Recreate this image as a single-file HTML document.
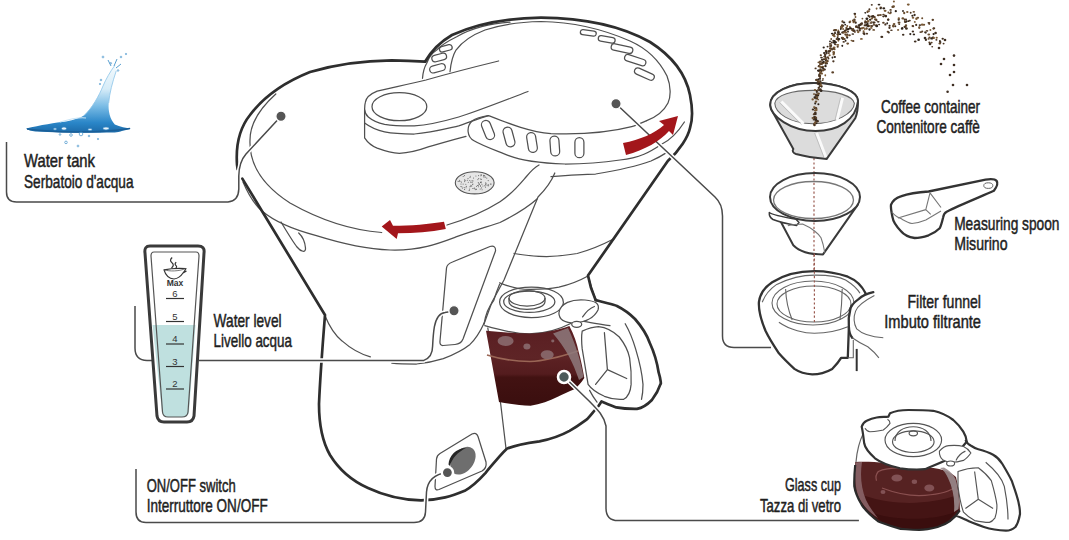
<!DOCTYPE html><html><head><meta charset="utf-8"><style>html,body{margin:0;padding:0;background:#fff;width:1069px;height:540px;overflow:hidden}svg{display:block}</style></head><body>
<svg width="1069" height="540" viewBox="0 0 1069 540">
<rect width="1069" height="540" fill="#fff"/>
<defs>
<linearGradient id="wg" x1="0" y1="0" x2="0" y2="1">
<stop offset="0" stop-color="#f4fafd"/><stop offset="0.35" stop-color="#d6ecf8"/><stop offset="0.6" stop-color="#7cbde6"/><stop offset="0.85" stop-color="#2a86c8"/><stop offset="1" stop-color="#1c6aa8"/></linearGradient>
<linearGradient id="coffee" gradientUnits="userSpaceOnUse" x1="0" y1="326" x2="0" y2="406">
<stop offset="0" stop-color="#5a1e22"/><stop offset="0.4" stop-color="#5e2426"/><stop offset="0.44" stop-color="#5a2022"/><stop offset="0.6" stop-color="#541c1e"/><stop offset="0.64" stop-color="#421212"/><stop offset="1" stop-color="#3a0e0e"/></linearGradient>
<linearGradient id="coffee2" x1="0" y1="0" x2="0" y2="1">
<stop offset="0" stop-color="#5a1f1f"/><stop offset="0.45" stop-color="#5e2222"/><stop offset="0.55" stop-color="#4a1616"/><stop offset="1" stop-color="#3a0f0f"/></linearGradient>
</defs>
<path d="M26,128.5 C40,125 56,122.5 66,121.4 C74,120 80,118 84.3,115.3 C92,108 99,96 103,86 C106,79 110,72 114.8,65.4 L116.2,71 C112.5,82 109.5,93 108.7,103 C108,111 110,119 114.8,124.5 C120,127 126,127.8 131,128.5 C122,131 118,132.5 112.8,132.6 C90,133 60,133 35.4,131.6 C31,131 28,130 26,128.5 Z" fill="url(#wg)"/>
<path d="M84.3,115.3 C92,108 99,96 103,86 C106,79 110,72 114.8,65.4 M116.2,71 C112.5,82 109.5,93 108.7,103" fill="none" stroke="#8cc4e8" stroke-width="0.8"/>
<path d="M60,122 C70,119 80,117 86,118" fill="none" stroke="#c8e4f6" stroke-width="1.2"/>
<path d="M27,129 C50,132 95,134 130,128.5" stroke="#1a5f98" stroke-width="1.6" fill="none"/>
<ellipse cx="64" cy="128.5" rx="2.5" ry="1.5" fill="#e8f4fb" stroke="#3a8ac4" stroke-width="0.6"/>
<ellipse cx="106" cy="128.5" rx="3" ry="1.4" fill="#e8f4fb" stroke="#3a8ac4" stroke-width="0.6"/>
<ellipse cx="55" cy="129" rx="1.5" ry="1" fill="#e8f4fb" stroke="#3a8ac4" stroke-width="0.6"/>
<ellipse cx="90" cy="129.5" rx="2" ry="1" fill="#e8f4fb" stroke="#3a8ac4" stroke-width="0.6"/>
<circle cx="81" cy="134" r="1.8" fill="none" stroke="#5aa0d0" stroke-width="0.8"/>
<circle cx="71" cy="135" r="1.3" fill="none" stroke="#5aa0d0" stroke-width="0.8"/>
<circle cx="66" cy="142.4" r="1.3" fill="none" stroke="#5aa0d0" stroke-width="0.8"/>
<circle cx="78" cy="146" r="0.9" fill="none" stroke="#5aa0d0" stroke-width="0.8"/>
<circle cx="60" cy="134.5" r="0.8" fill="none" stroke="#5aa0d0" stroke-width="0.8"/>
<circle cx="89" cy="136" r="0.8" fill="none" stroke="#5aa0d0" stroke-width="0.8"/>
<circle cx="98" cy="139" r="0.7" fill="none" stroke="#5aa0d0" stroke-width="0.8"/>
<circle cx="110.8" cy="63.3" r="0.8" fill="none" stroke="#5aa0d0" stroke-width="0.8"/>
<circle cx="118" cy="70.5" r="0.8" fill="none" stroke="#5aa0d0" stroke-width="0.8"/>
<circle cx="103" cy="57" r="0.9" fill="none" stroke="#5aa0d0" stroke-width="0.8"/>
<circle cx="121" cy="57" r="0.8" fill="none" stroke="#5aa0d0" stroke-width="0.8"/>
<circle cx="126" cy="54" r="0.7" fill="none" stroke="#5aa0d0" stroke-width="0.8"/>
<circle cx="101" cy="80" r="0.8" fill="none" stroke="#5aa0d0" stroke-width="0.8"/>
<circle cx="100" cy="84" r="0.7" fill="none" stroke="#5aa0d0" stroke-width="0.8"/>
<path d="M111,66 L108,60 M114,66 L117,59 M116,68 L121,64" stroke="#5aa0d0" stroke-width="1" fill="none"/>
<g fill="none" stroke="#505050" stroke-width="1.25" stroke-linecap="round" stroke-linejoin="round">
<path d="M275.8,94 C258,110 250,125 250,140 C249,165 262,185 290,203 C320,220 350,230 381.7,232.5"/>
<path d="M447,225 C470,218 490,208 500,201.7 C512,194 520,184 526,177 C531,171 535,167 539,165"/>
<path d="M243,182 C249,196 255,205 262,211 C275,222 295,230 316.4,235.6 C340,243 365,249 390,250 C420,251 440,243 456.7,236.7 C475,230 490,226 500,222.5 C515,215 528,207 537,199"/>
<path d="M281,222 C287,232 293,242 297,247 C301,252 306,253 305.5,248 C305,242 302,236 298.7,233"/>
<path d="M450,71.7 C451,62 453,55 456,50 C462,42 472,35 485,30 C500,25 520,22 541,21.5 C575,22 605,30 630,41 C648,49 660,62 667,76 C671,86 671,97 668,103 C664,111 656,117 646.7,120.7"/>
<path d="M422.5,78.3 C423,72 424.5,67 426.7,63.3 C429,57 432,53 436.7,50 C442,44 450,40 456.7,36.7 C465,32 473,29 481.7,26.7 C490,24.5 500,23 510,22.2"/>
<path d="M498.6,61 C470,68 440,76 426,80 C410,84 390,88 377.2,91.1 C370,94 366,98 365.4,102.2 C364.6,105 364.6,107 364.6,109.6 L364.6,137.8 C368,143 372,146 377.2,148.1 C385,151 392,153 399.4,153.3 C410,153 420,150 429,146.7 C445,142 455,139 466,136.3"/>
<path d="M364.6,109.6 C365,113 366,115 368.3,117 C373,121 378,123 384.6,124.4 C395,126 405,126 414.3,125.9 C430,125 445,121 458.7,117 C475,112 490,106 528,91.5"/>
<path d="M364.6,123 C370,127 376,130 384.6,131.9 C395,134 405,134 414.3,134 C430,133 445,129 458.7,125.9 C470,122 480,118 488.3,115.6"/>
<ellipse cx="399.4" cy="106.7" rx="27.4" ry="14"/>
<path d="M646.7,120.7 C640,123.5 636,125.5 631.7,126.7 C615,131 590,135 551,133.6 C530,132 510,124 488.6,115.6 C482,116.5 476,118 472,121 C466,127 467,137 474,140.7 C483,146 495,150 509.4,155.8 C520,160 540,163 565,164 C585,164 600,163 620,160 C640,158 650,152 662,144 C670,140 678,132 684.4,122"/>
<path d="M551,176.7 C570,175 585,174 595.6,174 C620,170 640,165 651,161 C658,158 663,155 667.8,151.9"/>
<path d="M554.8,173 C552,180 545,190 538,197 L504,280 L492,302 L484,324"/>
<path d="M514,253.5 C525,255.5 535,256.6 546.6,256.6 C558,256.5 568,255 577.2,253.5 C590,250 604,244 614.5,238.5"/>
<path d="M499.6,282.8 C510,287 520,289.4 529.3,289.4 C545,289.5 552,288.5 558.9,287.2 C570,284.5 580,280.5 588,276"/>
<path d="M325.1,316 C330,328 336,336 342,340.9 C350,348 360,354 370.4,356.9"/>
<path d="M391.8,363.1 C400,364 410,364 416.6,364 C428,363 436,361 443.3,358.7 C455,354 463,350 470,344.4 C477,338 481,330 484.2,323.1"/>
<path d="M452.5,262 L490,246.5 Q496,245 495.5,251 L463,339 Q461,344 455,344.5 L443,345.5 Q439.5,345.5 440,341 L446.5,268 Q447,264 452.5,262 Z"/>
<path d="M440,453.5 L472,434 Q476.5,432 478,436.5 L486,462 Q487,468 482,471 L439,489.5 Q435,491 435,486.5 L436.5,459 Q436.8,455.5 440,453.5 Z"/>
<path d="M487.8,328 L500.7,404 L506,448.5"/>
<path d="M499.6,302 C499.6,293 514,287.2 531.5,287.2 C549,287.2 563.4,293 563.4,302.4 C563.4,311 549,317.6 531.5,317.6 C514,317.6 499.6,311 499.6,302 Z"/>
<ellipse cx="529.3" cy="301.7" rx="25.6" ry="10.7"/>
<path d="M509,298.3 C509,294 517,290.5 527,290.5 C537,290.5 545,294 545,298.3 L545,301.5 C545,306 537,309.4 527,309.4 C517,309.4 509,306 509,301.5 Z"/>
<path d="M509,298.3 C509,302.5 517,306 527,306 C537,306 545,302.5 545,298.3"/>
<path d="M484,324 C486,312 490,305 493.7,300.6 C496,293 498,288 499.6,284.3"/>
<path d="M484.8,325.7 C500,330 515,333.9 529.3,333.9 C545,333.5 560,329 570.7,323.5"/>
<path d="M558.9,313 C560,303 572,299 585,300 C595,301 600,303 598,310 C594,318 585,322 575,323 C565,323 559,320 558.9,313 Z" fill="#fff"/>
<path d="M582.6,316.9 C586,312 590,308 594.4,306.5"/>
<ellipse cx="576.7" cy="324.3" rx="5" ry="3" fill="#fff"/>
<path d="M584,321.3 C592,323 600,324 610,325.7"/>
<path d="M582.2,331.1 C588,328.5 593,327 598.5,326.7 C606,327.5 613,331 619.3,337 C624,343 628,350 629.6,357.8 C631,367 631.5,376 631.1,384.4 C630.5,392 628,397 623.7,399.3 C617,400 610,398.5 604.4,396.3 C598,393.5 592,390 588.1,384.4 C586,372 584,360 582.2,348.9 C581.5,342 581.5,335 582.2,331.1 Z"/>
<path d="M604.4,332.6 L607.4,369.6 L595.6,384.4 M607.4,369.6 L626.7,378.5"/>
<path d="M625.2,323.7 C630,332 633,340 635.6,348.9 C639,360 642,372 643,384.4 C643,390 642.5,395 641.5,399.3"/>
<path d="M589.6,280.7 C592,290 594,296 597,301.5"/>
<path d="M589.6,390.4 C592,395 594.5,399 597,402.2"/>
</g>
<g fill="none" stroke="#505050" stroke-width="1.25">
<rect x="483.5" y="120" width="9" height="20" rx="4.5" transform="rotate(-22 488 130)"/>
<rect x="504.5" y="127" width="9" height="20" rx="4.5" transform="rotate(-15 509 137)"/>
<rect x="527.5" y="132.5" width="9" height="20" rx="4.5" transform="rotate(-9 532 142.5)"/>
<rect x="550.3" y="136" width="9" height="20" rx="4.5" transform="rotate(-4 554.8 146)"/>
<rect x="574.9" y="137.7" width="9" height="20" rx="4.5" transform="rotate(0 579.4 147.7)"/>
<rect x="439.3" y="45.55" width="13" height="5.5" rx="2.75" transform="rotate(-15 445.8 48.3)"/>
<rect x="431.7" y="54.25" width="15" height="6.5" rx="3.25" transform="rotate(-15 439.2 57.5)"/>
<rect x="429.5" y="64.8" width="16" height="7" rx="3.5" transform="rotate(-15 437.5 68.3)"/>
<rect x="580.3" y="30.4" width="16" height="5" rx="2.5" transform="rotate(8 588.3 32.9)"/>
<rect x="598.2" y="36.65" width="17" height="5.5" rx="2.75" transform="rotate(10 606.7 39.4)"/>
<rect x="611.0" y="45.35" width="22" height="6.5" rx="3.25" transform="rotate(12 622 48.6)"/>
<rect x="624.2" y="56.95" width="22" height="6.5" rx="3.25" transform="rotate(18 635.2 60.2)"/>
<rect x="633.9" y="70.85" width="21" height="6.5" rx="3.25" transform="rotate(24 644.4 74.1)"/>
</g>
<g fill="none" stroke="#2e2e2e" stroke-width="2.7" stroke-linecap="round" stroke-linejoin="round">
<path d="M237.6,169 L237,164.5 C236,150 238,130 250,115 C265,95 285,82 310,72 C340,63 370,60.5 391.7,60.3 C405,60.5 415,61 425,61.7"/>
<path d="M425,61.7 C432,50 440,42 452,35 C480,22 510,18 541,17.6 C590,18 625,28 650,42 C672,56 686,75 690,95 C693,110 692,122 690,128 C688,137 680,150 667.8,161 L588,275.5 C589.5,284 592,292 595.6,300"/>
<path d="M242.3,178.6 L325,315 C323,340 320,380 319,404 C319,425 322,441 330,455 C338,468 350,480 368,488 C385,496 405,500 421,500.4 C440,500 452,496 464.7,490.8 C473,486 480,479 485.6,472.8 C493,464 500,455 506.6,448.9 C515,445 528,443 539.5,441.4 C552,439 562,435 569.5,430.9 C578,426 583,422 587.4,418.9 C591,415 594,411 596.4,408.4"/>
<path d="M595.6,300 C605,303 612,304 617,306 C625,310 630,314 635,319 C642,327 647,335 649.8,343 C654,352 657,362 658.7,372.7 C661,380 661,385 660.7,383.7 C658,392 655,396 651.9,400 C647,405 642,408 637,408.9 C630,409 622,408.5 616.3,407.4 C610,405 605,403 601.5,401.5 L598.5,406"/>
</g>
<ellipse cx="474.7" cy="182.8" rx="19.4" ry="11.1" fill="#e6e6e6" stroke="#555" stroke-width="1.1"/>
<circle cx="471.7" cy="185.9" r="0.55" fill="#6a6a6a"/>
<circle cx="472.0" cy="180.8" r="0.55" fill="#6a6a6a"/>
<circle cx="464.7" cy="181.6" r="0.55" fill="#6a6a6a"/>
<circle cx="486.0" cy="185.1" r="0.55" fill="#6a6a6a"/>
<circle cx="485.6" cy="184.2" r="0.55" fill="#6a6a6a"/>
<circle cx="479.3" cy="184.0" r="0.55" fill="#6a6a6a"/>
<circle cx="460.9" cy="186.5" r="0.55" fill="#6a6a6a"/>
<circle cx="480.4" cy="185.8" r="0.55" fill="#6a6a6a"/>
<circle cx="463.2" cy="176.5" r="0.55" fill="#6a6a6a"/>
<circle cx="465.2" cy="180.2" r="0.55" fill="#6a6a6a"/>
<circle cx="478.3" cy="182.5" r="0.55" fill="#6a6a6a"/>
<circle cx="480.5" cy="179.0" r="0.55" fill="#6a6a6a"/>
<circle cx="478.3" cy="185.2" r="0.55" fill="#6a6a6a"/>
<circle cx="469.2" cy="190.4" r="0.55" fill="#6a6a6a"/>
<circle cx="480.2" cy="189.0" r="0.55" fill="#6a6a6a"/>
<circle cx="468.0" cy="178.6" r="0.55" fill="#6a6a6a"/>
<circle cx="470.6" cy="182.1" r="0.55" fill="#6a6a6a"/>
<circle cx="481.9" cy="184.3" r="0.55" fill="#6a6a6a"/>
<circle cx="470.0" cy="177.5" r="0.55" fill="#6a6a6a"/>
<circle cx="469.6" cy="189.1" r="0.55" fill="#6a6a6a"/>
<circle cx="465.8" cy="184.2" r="0.55" fill="#6a6a6a"/>
<circle cx="478.6" cy="175.6" r="0.55" fill="#6a6a6a"/>
<circle cx="475.2" cy="189.6" r="0.55" fill="#6a6a6a"/>
<circle cx="459.0" cy="181.5" r="0.55" fill="#6a6a6a"/>
<circle cx="473.5" cy="178.0" r="0.55" fill="#6a6a6a"/>
<circle cx="480.5" cy="182.4" r="0.55" fill="#6a6a6a"/>
<circle cx="461.8" cy="186.7" r="0.55" fill="#6a6a6a"/>
<circle cx="481.6" cy="187.9" r="0.55" fill="#6a6a6a"/>
<circle cx="488.2" cy="184.6" r="0.55" fill="#6a6a6a"/>
<circle cx="475.9" cy="176.0" r="0.55" fill="#6a6a6a"/>
<circle cx="481.5" cy="179.2" r="0.55" fill="#6a6a6a"/>
<circle cx="470.3" cy="176.3" r="0.55" fill="#6a6a6a"/>
<circle cx="464.6" cy="179.9" r="0.55" fill="#6a6a6a"/>
<circle cx="483.6" cy="175.4" r="0.55" fill="#6a6a6a"/>
<circle cx="461.0" cy="184.0" r="0.55" fill="#6a6a6a"/>
<circle cx="487.9" cy="185.6" r="0.55" fill="#6a6a6a"/>
<circle cx="464.5" cy="175.6" r="0.55" fill="#6a6a6a"/>
<circle cx="478.7" cy="178.5" r="0.55" fill="#6a6a6a"/>
<circle cx="464.2" cy="187.6" r="0.55" fill="#6a6a6a"/>
<circle cx="486.1" cy="183.7" r="0.55" fill="#6a6a6a"/>
<circle cx="477.6" cy="185.5" r="0.55" fill="#6a6a6a"/>
<circle cx="488.6" cy="185.7" r="0.55" fill="#6a6a6a"/>
<circle cx="480.5" cy="186.1" r="0.55" fill="#6a6a6a"/>
<circle cx="462.4" cy="188.1" r="0.55" fill="#6a6a6a"/>
<circle cx="484.7" cy="185.7" r="0.55" fill="#6a6a6a"/>
<circle cx="459.5" cy="180.2" r="0.55" fill="#6a6a6a"/>
<circle cx="481.4" cy="175.2" r="0.55" fill="#6a6a6a"/>
<circle cx="472.8" cy="188.5" r="0.55" fill="#6a6a6a"/>
<circle cx="464.6" cy="189.4" r="0.55" fill="#6a6a6a"/>
<circle cx="481.1" cy="181.9" r="0.55" fill="#6a6a6a"/>
<circle cx="478.4" cy="186.7" r="0.55" fill="#6a6a6a"/>
<circle cx="475.9" cy="189.0" r="0.55" fill="#6a6a6a"/>
<circle cx="467.3" cy="180.3" r="0.55" fill="#6a6a6a"/>
<circle cx="485.7" cy="182.9" r="0.55" fill="#6a6a6a"/>
<circle cx="466.0" cy="187.8" r="0.55" fill="#6a6a6a"/>
<circle cx="488.2" cy="180.6" r="0.55" fill="#6a6a6a"/>
<circle cx="461.4" cy="182.1" r="0.55" fill="#6a6a6a"/>
<circle cx="472.9" cy="180.9" r="0.55" fill="#6a6a6a"/>
<circle cx="486.8" cy="178.1" r="0.55" fill="#6a6a6a"/>
<circle cx="485.4" cy="177.1" r="0.55" fill="#6a6a6a"/>
<circle cx="466.3" cy="186.4" r="0.55" fill="#6a6a6a"/>
<circle cx="485.5" cy="187.1" r="0.55" fill="#6a6a6a"/>
<circle cx="478.8" cy="183.7" r="0.55" fill="#6a6a6a"/>
<circle cx="476.5" cy="186.3" r="0.55" fill="#6a6a6a"/>
<circle cx="472.6" cy="184.5" r="0.55" fill="#6a6a6a"/>
<circle cx="481.3" cy="182.8" r="0.55" fill="#6a6a6a"/>
<circle cx="482.9" cy="186.0" r="0.55" fill="#6a6a6a"/>
<circle cx="490.4" cy="184.1" r="0.55" fill="#6a6a6a"/>
<circle cx="469.8" cy="180.5" r="0.55" fill="#6a6a6a"/>
<circle cx="474.6" cy="188.1" r="0.55" fill="#6a6a6a"/>
<circle cx="470.8" cy="185.2" r="0.55" fill="#6a6a6a"/>
<circle cx="484.6" cy="175.5" r="0.55" fill="#6a6a6a"/>
<circle cx="463.1" cy="184.1" r="0.55" fill="#6a6a6a"/>
<circle cx="479.4" cy="184.3" r="0.55" fill="#6a6a6a"/>
<circle cx="469.9" cy="186.7" r="0.55" fill="#6a6a6a"/>
<circle cx="477.9" cy="179.6" r="0.55" fill="#6a6a6a"/>
<circle cx="491.1" cy="184.1" r="0.55" fill="#6a6a6a"/>
<circle cx="468.3" cy="182.2" r="0.55" fill="#6a6a6a"/>
<circle cx="472.0" cy="182.4" r="0.55" fill="#6a6a6a"/>
<circle cx="458.1" cy="181.2" r="0.55" fill="#6a6a6a"/>
<circle cx="484.0" cy="177.1" r="0.55" fill="#6a6a6a"/>
<circle cx="474.0" cy="188.2" r="0.55" fill="#6a6a6a"/>
<circle cx="482.1" cy="189.7" r="0.55" fill="#6a6a6a"/>
<circle cx="460.0" cy="181.2" r="0.55" fill="#6a6a6a"/>
<circle cx="470.8" cy="186.5" r="0.55" fill="#6a6a6a"/>
<circle cx="481.1" cy="174.5" r="0.55" fill="#6a6a6a"/>
<circle cx="483.9" cy="176.3" r="0.55" fill="#6a6a6a"/>
<circle cx="480.8" cy="175.8" r="0.55" fill="#6a6a6a"/>
<circle cx="476.5" cy="189.2" r="0.55" fill="#6a6a6a"/>
<circle cx="472.9" cy="184.0" r="0.55" fill="#6a6a6a"/>
<ellipse cx="463" cy="460.7" rx="15.5" ry="10.5" transform="rotate(-52 463 460.7)" fill="#6e6e6e"/>
<path d="M448.5,464.5 C449,456 456,448 466,448 C458,452 452,458 450,466 Z" fill="#262626"/>
<path d="M486,330.7 C500,332 515,333.5 530.6,333.5 C545,333 558,330 569.4,326 C574,335 577,343 578.7,352 C581,360 583,370 584.3,378 C581,383 578,386 575,389 C568,392 563,394 558.3,396.5 C550,401 540,404 530.6,405.7 C520,405.5 510,404 499,402 Z" fill="url(#coffee)"/>
<path d="M487,355 C500,359 515,361.5 530,361.5 C545,361 560,357 578,351" stroke="#9a6656" stroke-width="1.5" fill="none"/>
<path d="M553,333.5 L568,328 C576,345 581,362 583.5,377 L579,380 C573,362 565,347 553,333.5 Z" fill="#8e7a7c" opacity="0.85"/>
<ellipse cx="505.6" cy="341" rx="8" ry="5" fill="#8a6a6e" opacity="0.9"/>
<ellipse cx="526.9" cy="346.5" rx="3.5" ry="3" fill="#8a6a6e" opacity="0.9"/>
<ellipse cx="547.2" cy="354.8" rx="6.5" ry="4.5" fill="#8a6a6e" opacity="0.9"/>
<ellipse cx="552.8" cy="341" rx="1.6" ry="1.4" fill="#8a6a6e" opacity="0.9"/>
<g fill="none" stroke="#fff" stroke-width="4.5"><path d="M6.5,142 V192 Q6.5,202 16.5,202 H228 Q238.5,201 238.8,189 V176 Q239,162 246,154 L281,116.3"/><path d="M199,360.4 H423.8 C430,358 432.6,352 432.6,346.2 C433,338 433.5,332 434.4,326.7 C436,318 440,313 445,312.4 L454,311"/><path d="M136,469 V512 Q136,522.5 146,522.5 H414 Q425,522.5 425.5,512 L426.5,492 Q428,475 447,472.6"/><path d="M564.4,377 L589.6,401.5 C598,410 604,416 606,426 V508 Q606,520.6 618,520.6 H858.9"/><path d="M616,103.7 L715,197 Q722.5,204 722.5,216 V336 Q722.5,347.5 734,347.5 H771"/></g>
<g fill="none" stroke="#4a4a4a" stroke-width="1.5"><path d="M6.5,142 V192 Q6.5,202 16.5,202 H228 Q238.5,201 238.8,189 V176 Q239,162 246,154 L281,116.3"/><path d="M135,306 V348 Q135,360.4 147,360.4 H152"/><path d="M199,360.4 H423.8 C430,358 432.6,352 432.6,346.2 C433,338 433.5,332 434.4,326.7 C436,318 440,313 445,312.4 L454,311"/><path d="M136,469 V512 Q136,522.5 146,522.5 H414 Q425,522.5 425.5,512 L426.5,492 Q428,475 447,472.6"/><path d="M564.4,377 L589.6,401.5 C598,410 604,416 606,426 V508 Q606,520.6 618,520.6 H858.9"/><path d="M616,103.7 L715,197 Q722.5,204 722.5,216 V336 Q722.5,347.5 734,347.5 H771"/></g>
<circle cx="281" cy="116.3" r="5.2" fill="#555" stroke="#fff" stroke-width="1.4"/>
<circle cx="616" cy="103.7" r="5.2" fill="#555" stroke="#fff" stroke-width="1.4"/>
<circle cx="454" cy="310.8" r="5.2" fill="#555" stroke="#fff" stroke-width="1.4"/>
<circle cx="447.4" cy="472.6" r="5.6" fill="#555" stroke="#fff" stroke-width="2.4"/>
<circle cx="564" cy="377" r="6" fill="#4c5a5a" stroke="#fff" stroke-width="2.6"/>
<path d="M444,221.7 C430,224 410,225.8 393,225.8 L390,220 L381.7,226.5 L396.7,239 L398,233.3 C415,233.3 430,232 445.8,229 Z" fill="#a3161b"/>
<path d="M623,143 C640,140 655,133 664,125 L659,121 L678,116 L673,135 L669,131 C660,141 645,150 626,155 Z" fill="#a3161b"/>
<path d="M150,246 H198 Q205,246 204,253 L194,416 Q193,422 187,422 H164 Q158,422 157,416 L145,253 Q144,246 150,246 Z" fill="#fff" stroke="#3a3a3a" stroke-width="3"/>
<path d="M152.5,325 H195.5 L189,412 Q188.5,417 183,417 H168 Q162.5,417 162,412 Z" fill="#bfe0df"/>
<path d="M154,252 H196 Q199,252 199,256 L188,412 Q187.5,417 182,417 H168 Q163,417 162.5,412 L151,256 Q151,252 154,252 Z" fill="none" stroke="#555" stroke-width="1.2"/>
<g stroke="#333" stroke-width="1.2">
<line x1="166" y1="298.5" x2="184" y2="298.5"/>
<line x1="166" y1="321.5" x2="184" y2="321.5"/>
<line x1="166" y1="344" x2="184" y2="344"/>
<line x1="166" y1="366.5" x2="184" y2="366.5"/>
<line x1="166" y1="389" x2="184" y2="389"/>
</g>
<g font-family="Liberation Sans" font-size="9.5" fill="#333" text-anchor="middle">
<text x="175" y="296.5">6</text>
<text x="175" y="319.5">5</text>
<text x="175" y="342">4</text>
<text x="175" y="364.5">3</text>
<text x="175" y="387">2</text>
<text x="175" y="286" font-size="8.5" font-weight="bold">Max</text></g>
<path d="M164,269.8 C170,268.5 178,268 186,268.5 C185,270.5 184,272 183,273 C181,276 178,278.5 174,279 C169,278.5 165.5,275 164,269.8 Z M183,273 L186.5,271" fill="none" stroke="#333" stroke-width="1.2" stroke-linejoin="round"/>
<path d="M164,269.8 C170,271.5 178,271.5 186,268.5" fill="none" stroke="#555" stroke-width="0.8"/>
<path d="M172.2,257.5 C170,259.5 170,261 172,262.8 C174,264.5 173.5,266.3 171.5,268 M176.2,262.3 C174.8,263.5 174.8,264.6 176,265.6 C177,266.4 176.6,267.3 175.8,268" fill="none" stroke="#333" stroke-width="1.2"/>
<line x1="814" y1="158" x2="814" y2="323" stroke="#9a5a50" stroke-width="1.2" stroke-dasharray="2.2,2.2"/>
<path d="M770.2,105 C770,92 790,83 813.7,83 C840,83 858,92 858,101 C858,108 857,114 855.4,118 L826.7,158.9 C815,158 803,156 796,154 C793,153 792,151 793.3,149 L773,112.6 C771,110 770.2,108 770.2,105 Z" fill="#dcdcdc" stroke="#3a3a3a" stroke-width="2"/>
<path d="M770.2,105 C771,116 790,131 815.6,131 C838,131 856,120 858,101 C858,92 840,83 813.7,83 C790,83 770,92 770.2,105 Z" fill="#fff" stroke="#3a3a3a" stroke-width="2"/>
<path d="M774.8,103.3 C776,95 792,90.4 813,90.4 C836,90.4 853,96 854.4,103.3 C854,113 836,123.7 813,123.7 C790,123.7 775,113 774.8,103.3 Z" fill="#dcdcdc" stroke="#666" stroke-width="1.1"/>
<path d="M781.4,101.5 L803.6,123.7 M842.5,97.8 L837,120 M816.6,133 L825.8,157" stroke="#fafafa" stroke-width="3" fill="none"/>
<path d="M779.4,102.5 L801.6,124.7 M840.5,97.8 L835,120 M814.6,133 L823.8,157" stroke="#aaa" stroke-width="0.6" fill="none"/>
<path d="M780.4,221 L793.3,245.2 C800,252 812,254.4 823,254.4 L858,204.4 Z" fill="#fff" stroke="#3a3a3a" stroke-width="2" stroke-linejoin="round"/>
<ellipse cx="815" cy="197" rx="45" ry="24" fill="#fff" stroke="#3a3a3a" stroke-width="2"/>
<ellipse cx="813.5" cy="200" rx="40" ry="18.5" fill="none" stroke="#777" stroke-width="1.3"/>
<line x1="814" y1="174" x2="814" y2="254" stroke="#9a5a50" stroke-width="1.2" stroke-dasharray="2.2,2.2"/>
<path d="M769.3,212.5 C772,214.5 780,216.5 796,219.3 L799,222.5 L796.5,225.5 C788,224 779,222 773,219.5 C770.5,218 769,215.5 769.3,212.5 Z" fill="#fff" stroke="#3a3a3a" stroke-width="1.5" stroke-linejoin="round"/>
<path d="M787.8,225.7 C792,224.5 797,224 802.6,224 C812,228 819,234 821,237.8 C823,243 824,248 824.8,252.6" fill="none" stroke="#777" stroke-width="1.1"/>
<path d="M891,204.7 C893,200 896,198 900.8,196.4 C910,193 920,192 928.6,191.5 L985.6,179.7 C991,178.8 995,179 996.7,181 C998,183 997.5,186 993.9,190.8 C980,197 960,205 946.7,211.7 C944,213 943.5,215 943.2,217.2 C942,222 941,226 939.7,228.3 C936,232 932,234 928.6,235.3 C922,237.5 918,238 914.7,238 C908,237 904,235 900.8,231 C896,226 893,221 892.5,217.2 C891.5,212 890.5,208 891,204.7 Z" fill="#fff" stroke="#333" stroke-width="2.3" stroke-linejoin="round"/>
<ellipse cx="988.3" cy="185.6" rx="4.5" ry="2.8" fill="none" stroke="#666" stroke-width="1"/>
<path d="M891.8,211.7 C894,215 897,217 900.8,218.6 C905,221 908,223 912,223.5 C917,223 921,222 925.8,220 L941,211 M930,192.9 L925.8,209.6 L898,218 M925.8,209.6 L930.7,214.4 M930,192.9 L941,207.5" fill="none" stroke="#777" stroke-width="1.1" stroke-linejoin="round"/>
<path d="M758.9,302.2 C760,293 765,287 772.2,282.2 C785,274 800,271.1 814.4,271.1 C828,271 840,274 847.8,276.7 C856,280 862,286 865.6,293.3 L848.9,326.7 L847.8,357.8 L841.1,357.8 C838,363 835,366 832.2,368.9 C825,373 818,374.4 812.2,374.4 C805,374 799,372 794.4,368.9 C788,363 783,358 778.9,353.3 C772,343 768,336 765.6,331 C761,320 758.5,310 758.9,302.2 Z" fill="#fff" stroke="#333" stroke-width="2.3" stroke-linejoin="round"/>
<g fill="none" stroke="#666" stroke-width="1.1">
<path d="M762.2,302.2 C765,295 770,289 776.7,284.4 C790,278 800,275.1 814.4,275.1 C830,275 840,277 845.6,280 C852,284 857,288 860,293.3"/>
<ellipse cx="813" cy="303" rx="41" ry="22"/>
<ellipse cx="814" cy="304" rx="37" ry="18"/>
<path d="M778.9,322.2 C790,330 805,333.3 814.4,333.3 C828,333 840,330 847.8,326.7"/>
<path d="M785.6,288.9 C786,300 789,312 792.2,320 M842.2,288.9 C842,300 841,312 840,320"/>
</g>
<line x1="814.4" y1="254" x2="814.4" y2="322" stroke="#9a5a50" stroke-width="1.2" stroke-dasharray="2.2,2.2"/>
<path d="M873.3,292.2 C866,294 862,296 858.9,298.9 C853,303 850,308 850,311.1 C848,318 848.5,322 848.9,326.7 C849,332 850,335 852.2,337.8 L853.3,357.8 L856.7,357.8 L856.7,371.1 L856.7,348.9 C862,347 868,348 878.9,357.8 L890,362 L890,290 Z" fill="#fff"/>
<path d="M873.3,292.2 C866,294 862,296 858.9,298.9 C853,303 850,308 850,311.1 C848,318 848.5,322 848.9,326.7 C849,332 850,335 852.2,337.8" fill="none" stroke="#333" stroke-width="2.3" stroke-linecap="round"/>
<path d="M856.7,348.9 V371.1" stroke="#333" stroke-width="2" fill="none"/>
<g fill="none" stroke="#666" stroke-width="1.1"><path d="M874.4,295.6 C866,300 858,305 855.6,311.1 C853,318 854,324 856.7,328.9 C862,334 872,337 883.3,337.8"/><path d="M852.2,337.8 C858,342 862,344 867.8,346.7 C872,350 876,354 878.9,357.8"/><path d="M853.3,340 V357.8 L847.8,357.8"/></g>
<path d="M855.2,462 C870,461 890,463 910,466 C930,468 945,467 956,477 C959,490 960,500 959.8,510.4 C955,518 948,524 937.6,527 C930,529 925,529.8 919,529.8 C910,529.5 905,529 900.6,528.9 C890,526 885,524 878.3,521.5 C870,515 865,510 861.7,504.8 C857,497 855,491 854.3,486.3 C854,478 854.5,470 855.2,462 Z" fill="#562222"/>
<path d="M863.5,495.6 C880,501 895,503 909.8,503 C925,503 945,500 956,495.6 C958,503 959,508 959.8,510.4 C955,518 948,524 937.6,527 C930,529 925,529.8 919,529.8 C905,529 890,526 878.3,521.5 C870,515 865,510 861.7,504.8 Z" fill="#441414"/>
<path d="M870,512 C890,520 930,522 955,512 C950,520 945,525 937.6,527 C925,530 905,530 885,524 Z" fill="#3a0e0e"/>
<path d="M876.5,480.7 C875,476 877,473 878.3,471.5 C885,468 895,467.8 900.6,467.8 M882,488 C895,493 905,495.6 919,495.6 C935,495 948,492 954,488" fill="none" stroke="#8a5050" stroke-width="1.2"/>
<ellipse cx="896.9" cy="478" rx="5.5" ry="3.5" fill="#8a5a5e" opacity="0.85"/>
<ellipse cx="914.4" cy="481.7" rx="2.7" ry="2.2" fill="#8a5a5e" opacity="0.85"/>
<ellipse cx="929.3" cy="488" rx="5" ry="3.5" fill="#8a5a5e" opacity="0.85"/>
<ellipse cx="883" cy="491.9" rx="2.5" ry="2" fill="#8a5a5e" opacity="0.85"/>
<path d="M855.5,462.5 L862,462 C860,475 861,488 866,500 C870,508 874,513 878,518 C868,512 861,503 857.5,494 C855,485 854.5,473 855.5,462.5 Z" fill="#8a6468" opacity="0.9"/>
<path d="M944,467.5 C952,472 956,477 957,485 C959,495 959.5,503 958.5,509 L954,512 C955,500 953,488 948,478 C946,474 944,470 940,468 Z" fill="#9a8a8c" opacity="0.9"/>
<path d="M863.5,433 C860,440 857,450 856,462" fill="none" stroke="#666" stroke-width="1.2"/>
<path d="M855.2,465 C854.5,472 854,478 854.3,486.3 C855,491 857,497 861.7,504.8 C865,510 870,515 878.3,521.5 C885,524 890,526 900.6,528.9 C905,529 910,529.8 919,529.8 C925,529.8 930,529 937.6,527 C948,524 955,518 959.8,510.4" fill="none" stroke="#2a2a2a" stroke-width="2.2"/>
<path d="M861.7,426.7 C863,423 865,421.5 866.7,420.8 C870,419 873,418 876.7,417.5 C880,417 885,417 888.3,416.7 L890,413.3 C895,411 900,410 908.3,410 C915,410 925,410 933.3,410.8 C943,413 948,416 953.3,420 C958,424 961,428 963.3,431.7 C966,436 966.5,439 966.7,441.7 C960,450 955,455 950,458.3 C945,461 940,463 925,469.2 C915,470 905,469 900,468.3 C890,466 880,462 875,458.3 C868,452 865,448 864.2,443.3 C863.5,438 863,432 861.7,426.7 Z" fill="#fff" stroke="#333" stroke-width="2.2" stroke-linejoin="round"/>
<g fill="none" stroke="#555" stroke-width="1.15">
<path d="M865,428.3 C866,430 868,431.7 870,431.7 C875,431.5 880,431 883.3,430 C886,428 888,426 890,423.3 C890,421 889,420 887.5,419.2"/>
<ellipse cx="913.3" cy="440" rx="28.3" ry="16.7"/>
<ellipse cx="913.3" cy="441.7" rx="20.8" ry="10.8"/>
<path d="M895,441 C895,432 903,426.7 913.3,426.7 C923,426.7 931,432 931,441"/>
<ellipse cx="913.3" cy="433.3" rx="4.2" ry="2.5"/>
</g>
<path d="M965.4,440 C967,443 969,445 970.9,445.6 C973,447 975,448.5 978.3,449.3 C985,451 990,453 993.1,454.8 C997,457 1000,460 1002.4,464 C1006,470 1009,475 1011.7,480.7 C1015,490 1018,498 1019,504.8 C1020,509 1020,512 1020,514 C1019,520 1017.5,524 1015.4,527 C1012,530 1009,530.7 1006,530.7 C1000,530.5 990,529 983.9,527 C975,524 970,522 965.4,519.6 C962,518 959,516.5 956,516" fill="none" stroke="#333" stroke-width="2.2" stroke-linejoin="round"/>
<g fill="none" stroke="#555" stroke-width="1.15" stroke-linejoin="round">
<path d="M958,471.5 C965,469 972,468 978.3,467.8 C984,472 988,476 991.3,480.7 C994,490 996,498 996.9,504.8 C997,510 996.5,514 995,517.8 C993,520.5 991,522 989.4,522.4 C984,522.5 979,521.5 974.6,520.6 C970,518 966,515 963.5,512.2 C961,505 959,495 958,486.3 Z"/>
<path d="M974.6,471.5 L978.3,499.3 L965.4,508.5 M978.3,499.3 L993.1,508.5"/>
<path d="M985.7,462.2 C995,470 1002,478 1004.3,486.3 C1007,500 1008,512 1008,519.6"/>
<path d="M939.4,451.1 C942,448 945,446 948.7,445.6 C955,445 960,445.5 963.5,446.5 C967,448 969,450 970.9,453 C968,457 966,459 963.5,460.4 C958,462 953,462.5 948.7,462.2 C944,461 941,459 940.4,456.7 C939.5,454.5 939.2,453 939.4,451.1 Z" fill="#fff"/>
<path d="M956,460.4 C958,456 961,453 965.4,451.1"/>
<ellipse cx="950.6" cy="463.5" rx="4" ry="2.5" fill="#fff"/>
</g>
<g>
<ellipse cx="815.4" cy="119.1" rx="1.17" ry="1.17" fill="#5a4028"/>
<ellipse cx="871.8" cy="4.8" rx="1.04" ry="0.88" fill="#4a3524"/>
<ellipse cx="833.6" cy="54.4" rx="1.11" ry="1.06" fill="#7a5a36"/>
<ellipse cx="815.2" cy="103.4" rx="1.02" ry="1.16" fill="#2e241c"/>
<ellipse cx="853.6" cy="22.1" rx="1.14" ry="1.18" fill="#7a5a36"/>
<ellipse cx="816.4" cy="96.1" rx="1.25" ry="0.99" fill="#7a5a36"/>
<ellipse cx="816.6" cy="98.1" rx="1.23" ry="0.85" fill="#3e2e20"/>
<ellipse cx="854.0" cy="21.2" rx="1.35" ry="0.86" fill="#4a3524"/>
<ellipse cx="859.6" cy="25.2" rx="1.25" ry="0.90" fill="#2e241c"/>
<ellipse cx="862.1" cy="28.3" rx="1.44" ry="1.06" fill="#6a4e30"/>
<ellipse cx="828.5" cy="58.5" rx="0.91" ry="0.98" fill="#4a3524"/>
<ellipse cx="837.6" cy="37.3" rx="0.98" ry="1.05" fill="#3e2e20"/>
<ellipse cx="833.3" cy="40.8" rx="0.96" ry="1.02" fill="#4a3524"/>
<ellipse cx="816.5" cy="90.7" rx="1.17" ry="0.81" fill="#3e2e20"/>
<ellipse cx="824.2" cy="53.1" rx="1.17" ry="1.01" fill="#2e241c"/>
<ellipse cx="830.8" cy="48.6" rx="1.43" ry="1.17" fill="#6a4e30"/>
<ellipse cx="867.5" cy="23.4" rx="1.09" ry="1.07" fill="#2e241c"/>
<ellipse cx="815.3" cy="110.3" rx="1.44" ry="0.86" fill="#7a5a36"/>
<ellipse cx="839.9" cy="34.2" rx="1.35" ry="0.84" fill="#2e241c"/>
<ellipse cx="817.7" cy="95.2" rx="1.32" ry="1.20" fill="#2e241c"/>
<ellipse cx="823.3" cy="68.7" rx="1.23" ry="0.98" fill="#3e2e20"/>
<ellipse cx="823.1" cy="62.3" rx="1.48" ry="0.85" fill="#4a3524"/>
<ellipse cx="876.9" cy="25.6" rx="1.06" ry="0.85" fill="#2e241c"/>
<ellipse cx="861.6" cy="24.5" rx="1.14" ry="1.01" fill="#6a4e30"/>
<ellipse cx="834.8" cy="42.3" rx="1.16" ry="0.83" fill="#3e2e20"/>
<ellipse cx="842.2" cy="37.7" rx="1.41" ry="0.83" fill="#3e2e20"/>
<ellipse cx="826.5" cy="53.5" rx="0.98" ry="1.01" fill="#4a3524"/>
<ellipse cx="872.0" cy="18.3" rx="1.01" ry="1.17" fill="#7a5a36"/>
<ellipse cx="820.3" cy="73.0" rx="1.11" ry="0.81" fill="#5a4028"/>
<ellipse cx="815.8" cy="118.0" rx="1.49" ry="1.01" fill="#4a3524"/>
<ellipse cx="873.7" cy="29.9" rx="1.40" ry="0.96" fill="#6a4e30"/>
<ellipse cx="822.0" cy="73.6" rx="1.02" ry="1.15" fill="#7a5a36"/>
<ellipse cx="838.4" cy="33.9" rx="0.94" ry="1.10" fill="#5a4028"/>
<ellipse cx="827.9" cy="57.3" rx="1.13" ry="1.00" fill="#5a4028"/>
<ellipse cx="837.1" cy="39.1" rx="0.90" ry="0.95" fill="#5a4028"/>
<ellipse cx="876.4" cy="25.2" rx="1.48" ry="0.92" fill="#5a4028"/>
<ellipse cx="816.9" cy="91.9" rx="1.05" ry="1.11" fill="#3e2e20"/>
<ellipse cx="822.7" cy="80.3" rx="0.93" ry="0.81" fill="#5a4028"/>
<ellipse cx="847.7" cy="43.6" rx="1.44" ry="1.11" fill="#6a4e30"/>
<ellipse cx="822.4" cy="62.9" rx="0.99" ry="1.09" fill="#7a5a36"/>
<ellipse cx="816.4" cy="98.0" rx="1.32" ry="1.00" fill="#6a4e30"/>
<ellipse cx="849.9" cy="27.1" rx="0.91" ry="1.07" fill="#7a5a36"/>
<ellipse cx="843.4" cy="31.8" rx="1.12" ry="0.84" fill="#2e241c"/>
<ellipse cx="834.3" cy="42.6" rx="1.31" ry="1.00" fill="#3e2e20"/>
<ellipse cx="834.8" cy="57.0" rx="1.22" ry="1.10" fill="#2e241c"/>
<ellipse cx="818.8" cy="81.2" rx="1.34" ry="0.88" fill="#7a5a36"/>
<ellipse cx="836.1" cy="29.8" rx="1.07" ry="0.82" fill="#7a5a36"/>
<ellipse cx="844.6" cy="39.0" rx="1.05" ry="1.10" fill="#5a4028"/>
<ellipse cx="842.3" cy="38.0" rx="0.96" ry="0.89" fill="#2e241c"/>
<ellipse cx="820.0" cy="75.4" rx="1.18" ry="0.85" fill="#6a4e30"/>
<ellipse cx="821.1" cy="90.7" rx="1.39" ry="1.19" fill="#2e241c"/>
<ellipse cx="878.2" cy="21.8" rx="1.46" ry="0.83" fill="#3e2e20"/>
<ellipse cx="812.7" cy="99.4" rx="1.21" ry="1.15" fill="#7a5a36"/>
<ellipse cx="825.5" cy="66.3" rx="1.14" ry="0.86" fill="#2e241c"/>
<ellipse cx="840.9" cy="27.0" rx="0.97" ry="0.93" fill="#5a4028"/>
<ellipse cx="852.4" cy="30.1" rx="1.46" ry="1.09" fill="#7a5a36"/>
<ellipse cx="819.1" cy="75.9" rx="1.12" ry="0.97" fill="#5a4028"/>
<ellipse cx="861.8" cy="23.3" rx="1.30" ry="1.05" fill="#4a3524"/>
<ellipse cx="819.3" cy="81.7" rx="1.47" ry="1.15" fill="#7a5a36"/>
<ellipse cx="827.9" cy="61.0" rx="1.02" ry="0.83" fill="#7a5a36"/>
<ellipse cx="824.1" cy="59.2" rx="1.45" ry="1.02" fill="#4a3524"/>
<ellipse cx="826.1" cy="51.0" rx="1.34" ry="1.19" fill="#5a4028"/>
<ellipse cx="826.1" cy="59.7" rx="1.29" ry="0.83" fill="#6a4e30"/>
<ellipse cx="866.9" cy="18.7" rx="1.44" ry="1.20" fill="#2e241c"/>
<ellipse cx="824.2" cy="56.6" rx="1.09" ry="0.95" fill="#6a4e30"/>
<ellipse cx="820.6" cy="89.4" rx="1.13" ry="1.10" fill="#4a3524"/>
<ellipse cx="823.5" cy="63.0" rx="0.98" ry="1.00" fill="#7a5a36"/>
<ellipse cx="861.4" cy="38.9" rx="1.44" ry="0.95" fill="#7a5a36"/>
<ellipse cx="832.4" cy="57.6" rx="0.92" ry="1.08" fill="#2e241c"/>
<ellipse cx="875.5" cy="19.3" rx="1.46" ry="1.17" fill="#6a4e30"/>
<ellipse cx="863.4" cy="27.7" rx="1.21" ry="1.07" fill="#7a5a36"/>
<ellipse cx="848.0" cy="31.6" rx="0.95" ry="1.11" fill="#3e2e20"/>
<ellipse cx="856.1" cy="27.2" rx="0.98" ry="0.90" fill="#7a5a36"/>
<ellipse cx="825.0" cy="54.8" rx="1.08" ry="1.18" fill="#4a3524"/>
<ellipse cx="825.7" cy="62.8" rx="1.18" ry="1.18" fill="#7a5a36"/>
<ellipse cx="860.4" cy="24.8" rx="1.23" ry="0.81" fill="#2e241c"/>
<ellipse cx="846.4" cy="29.8" rx="1.15" ry="0.90" fill="#7a5a36"/>
<ellipse cx="825.8" cy="58.1" rx="1.32" ry="1.09" fill="#5a4028"/>
<ellipse cx="847.3" cy="34.6" rx="1.02" ry="1.19" fill="#5a4028"/>
<ellipse cx="849.6" cy="22.2" rx="1.06" ry="1.16" fill="#3e2e20"/>
<ellipse cx="873.1" cy="16.2" rx="1.30" ry="1.18" fill="#4a3524"/>
<ellipse cx="871.3" cy="27.9" rx="1.26" ry="0.97" fill="#7a5a36"/>
<ellipse cx="814.4" cy="114.2" rx="1.50" ry="1.17" fill="#5a4028"/>
<ellipse cx="815.0" cy="90.0" rx="1.18" ry="0.92" fill="#7a5a36"/>
<ellipse cx="822.6" cy="62.7" rx="1.07" ry="0.94" fill="#3e2e20"/>
<ellipse cx="835.0" cy="42.2" rx="1.36" ry="0.92" fill="#2e241c"/>
<ellipse cx="814.9" cy="107.9" rx="1.09" ry="1.09" fill="#2e241c"/>
<ellipse cx="813.9" cy="119.7" rx="1.36" ry="0.82" fill="#3e2e20"/>
<ellipse cx="828.6" cy="53.1" rx="1.26" ry="0.95" fill="#5a4028"/>
<ellipse cx="874.3" cy="22.5" rx="1.33" ry="0.93" fill="#5a4028"/>
<ellipse cx="819.1" cy="74.8" rx="0.94" ry="1.13" fill="#3e2e20"/>
<ellipse cx="823.7" cy="47.5" rx="1.13" ry="0.90" fill="#2e241c"/>
<ellipse cx="859.8" cy="30.4" rx="1.08" ry="1.08" fill="#4a3524"/>
<ellipse cx="838.4" cy="39.3" rx="1.12" ry="1.11" fill="#3e2e20"/>
<ellipse cx="830.2" cy="46.0" rx="1.19" ry="1.02" fill="#4a3524"/>
<ellipse cx="879.1" cy="24.6" rx="1.06" ry="0.83" fill="#3e2e20"/>
<ellipse cx="833.4" cy="61.3" rx="1.18" ry="1.16" fill="#4a3524"/>
<ellipse cx="852.5" cy="29.7" rx="0.97" ry="1.14" fill="#5a4028"/>
<ellipse cx="820.1" cy="77.0" rx="1.01" ry="0.89" fill="#5a4028"/>
<ellipse cx="866.6" cy="28.5" rx="1.14" ry="1.20" fill="#6a4e30"/>
<ellipse cx="831.3" cy="45.4" rx="0.90" ry="1.15" fill="#4a3524"/>
<ellipse cx="860.6" cy="23.9" rx="1.08" ry="0.85" fill="#4a3524"/>
<ellipse cx="838.4" cy="40.6" rx="1.01" ry="1.04" fill="#7a5a36"/>
<ellipse cx="874.0" cy="24.8" rx="1.27" ry="0.89" fill="#5a4028"/>
<ellipse cx="832.7" cy="72.4" rx="1.45" ry="1.13" fill="#5a4028"/>
<ellipse cx="825.9" cy="60.5" rx="0.95" ry="0.81" fill="#2e241c"/>
<ellipse cx="835.3" cy="44.3" rx="1.28" ry="0.84" fill="#4a3524"/>
<ellipse cx="826.7" cy="63.4" rx="1.30" ry="0.97" fill="#3e2e20"/>
<ellipse cx="818.8" cy="70.7" rx="1.50" ry="0.95" fill="#4a3524"/>
<ellipse cx="825.9" cy="63.5" rx="1.16" ry="0.86" fill="#3e2e20"/>
<ellipse cx="855.0" cy="14.8" rx="0.91" ry="1.02" fill="#7a5a36"/>
<ellipse cx="856.4" cy="26.4" rx="1.46" ry="1.09" fill="#4a3524"/>
<ellipse cx="816.7" cy="98.5" rx="1.19" ry="1.12" fill="#4a3524"/>
<ellipse cx="820.2" cy="73.5" rx="1.45" ry="0.93" fill="#6a4e30"/>
<ellipse cx="869.4" cy="9.4" rx="1.00" ry="1.11" fill="#4a3524"/>
<ellipse cx="835.0" cy="33.1" rx="1.18" ry="1.03" fill="#3e2e20"/>
<ellipse cx="822.2" cy="59.8" rx="1.33" ry="1.16" fill="#3e2e20"/>
<ellipse cx="866.7" cy="24.6" rx="1.30" ry="0.93" fill="#2e241c"/>
<ellipse cx="833.1" cy="35.2" rx="1.25" ry="0.97" fill="#7a5a36"/>
<ellipse cx="825.5" cy="65.6" rx="0.90" ry="1.19" fill="#2e241c"/>
<ellipse cx="817.6" cy="83.4" rx="1.18" ry="0.84" fill="#4a3524"/>
<ellipse cx="822.6" cy="66.9" rx="1.20" ry="1.06" fill="#3e2e20"/>
<ellipse cx="845.6" cy="40.7" rx="0.93" ry="1.00" fill="#2e241c"/>
<ellipse cx="838.3" cy="30.6" rx="0.94" ry="1.05" fill="#7a5a36"/>
<ellipse cx="861.4" cy="28.5" rx="1.45" ry="0.87" fill="#7a5a36"/>
<ellipse cx="871.6" cy="22.0" rx="1.35" ry="0.86" fill="#6a4e30"/>
<ellipse cx="819.8" cy="76.4" rx="1.02" ry="0.91" fill="#6a4e30"/>
<ellipse cx="818.1" cy="83.7" rx="1.14" ry="1.05" fill="#5a4028"/>
<ellipse cx="845.5" cy="34.6" rx="1.22" ry="1.05" fill="#5a4028"/>
<ellipse cx="874.5" cy="17.2" rx="1.31" ry="1.16" fill="#5a4028"/>
<ellipse cx="878.3" cy="15.3" rx="1.49" ry="1.03" fill="#5a4028"/>
<ellipse cx="820.4" cy="69.4" rx="1.27" ry="1.18" fill="#5a4028"/>
<ellipse cx="858.9" cy="25.1" rx="1.30" ry="0.93" fill="#3e2e20"/>
<ellipse cx="850.3" cy="28.2" rx="1.28" ry="0.97" fill="#5a4028"/>
<ellipse cx="867.7" cy="24.8" rx="0.90" ry="0.94" fill="#3e2e20"/>
<ellipse cx="831.0" cy="46.0" rx="1.08" ry="0.85" fill="#5a4028"/>
<ellipse cx="837.9" cy="35.8" rx="0.99" ry="0.84" fill="#7a5a36"/>
<ellipse cx="815.6" cy="98.1" rx="1.39" ry="1.19" fill="#3e2e20"/>
<ellipse cx="838.4" cy="32.1" rx="1.46" ry="1.09" fill="#4a3524"/>
<ellipse cx="815.6" cy="94.9" rx="0.92" ry="0.87" fill="#4a3524"/>
<ellipse cx="815.1" cy="112.5" rx="0.99" ry="0.88" fill="#6a4e30"/>
<ellipse cx="838.4" cy="32.6" rx="1.27" ry="1.00" fill="#3e2e20"/>
<ellipse cx="825.3" cy="75.3" rx="0.90" ry="1.14" fill="#7a5a36"/>
<ellipse cx="867.5" cy="11.8" rx="1.01" ry="1.20" fill="#5a4028"/>
<ellipse cx="820.1" cy="84.5" rx="1.41" ry="1.08" fill="#5a4028"/>
<ellipse cx="835.3" cy="30.3" rx="1.45" ry="1.19" fill="#5a4028"/>
<ellipse cx="843.1" cy="37.9" rx="1.06" ry="0.89" fill="#7a5a36"/>
<ellipse cx="818.0" cy="90.0" rx="1.02" ry="0.96" fill="#6a4e30"/>
<ellipse cx="820.3" cy="83.2" rx="1.49" ry="0.99" fill="#6a4e30"/>
<ellipse cx="842.1" cy="25.4" rx="1.33" ry="1.03" fill="#5a4028"/>
<ellipse cx="852.8" cy="20.4" rx="0.92" ry="0.84" fill="#6a4e30"/>
<ellipse cx="870.3" cy="19.6" rx="0.92" ry="0.82" fill="#7a5a36"/>
<ellipse cx="842.4" cy="37.8" rx="1.36" ry="0.88" fill="#6a4e30"/>
<ellipse cx="868.2" cy="26.0" rx="1.45" ry="1.18" fill="#3e2e20"/>
<ellipse cx="819.0" cy="83.3" rx="1.35" ry="0.83" fill="#7a5a36"/>
<ellipse cx="837.7" cy="34.2" rx="1.38" ry="1.06" fill="#5a4028"/>
<ellipse cx="820.9" cy="71.2" rx="1.33" ry="0.95" fill="#5a4028"/>
<ellipse cx="854.4" cy="30.6" rx="1.07" ry="1.10" fill="#2e241c"/>
<ellipse cx="814.6" cy="118.8" rx="1.24" ry="1.09" fill="#3e2e20"/>
<ellipse cx="835.8" cy="42.2" rx="1.21" ry="0.92" fill="#3e2e20"/>
<ellipse cx="814.2" cy="124.3" rx="1.20" ry="0.94" fill="#6a4e30"/>
<ellipse cx="818.4" cy="79.4" rx="1.03" ry="1.08" fill="#2e241c"/>
<ellipse cx="818.6" cy="93.4" rx="1.24" ry="0.84" fill="#5a4028"/>
<ellipse cx="822.8" cy="66.8" rx="1.43" ry="0.83" fill="#7a5a36"/>
<ellipse cx="815.7" cy="120.7" rx="1.13" ry="1.15" fill="#4a3524"/>
<ellipse cx="872.6" cy="16.6" rx="1.31" ry="1.04" fill="#3e2e20"/>
<ellipse cx="822.1" cy="67.5" rx="1.35" ry="0.87" fill="#2e241c"/>
<ellipse cx="841.4" cy="27.7" rx="1.10" ry="1.06" fill="#7a5a36"/>
<ellipse cx="819.5" cy="83.1" rx="0.99" ry="0.86" fill="#4a3524"/>
<ellipse cx="842.5" cy="21.5" rx="1.04" ry="1.18" fill="#5a4028"/>
<ellipse cx="876.4" cy="20.1" rx="1.13" ry="1.19" fill="#5a4028"/>
<ellipse cx="848.6" cy="28.8" rx="1.28" ry="0.84" fill="#4a3524"/>
<ellipse cx="865.3" cy="21.5" rx="1.03" ry="1.19" fill="#5a4028"/>
<ellipse cx="826.4" cy="52.3" rx="1.14" ry="1.10" fill="#2e241c"/>
<ellipse cx="842.1" cy="26.8" rx="1.29" ry="1.15" fill="#7a5a36"/>
<ellipse cx="843.0" cy="25.7" rx="1.28" ry="0.98" fill="#5a4028"/>
<ellipse cx="816.6" cy="79.7" rx="1.33" ry="0.86" fill="#2e241c"/>
<ellipse cx="833.8" cy="52.6" rx="1.21" ry="1.06" fill="#4a3524"/>
<ellipse cx="866.6" cy="22.0" rx="0.96" ry="0.90" fill="#4a3524"/>
<ellipse cx="814.1" cy="94.0" rx="1.21" ry="0.84" fill="#6a4e30"/>
<ellipse cx="829.6" cy="55.2" rx="1.12" ry="0.94" fill="#7a5a36"/>
<ellipse cx="873.6" cy="22.7" rx="1.14" ry="1.11" fill="#3e2e20"/>
<ellipse cx="845.2" cy="24.7" rx="0.94" ry="0.83" fill="#2e241c"/>
<ellipse cx="842.7" cy="39.0" rx="0.97" ry="0.92" fill="#2e241c"/>
<ellipse cx="871.4" cy="16.3" rx="1.03" ry="0.85" fill="#3e2e20"/>
<ellipse cx="854.4" cy="19.5" rx="1.24" ry="0.89" fill="#4a3524"/>
<ellipse cx="818.9" cy="65.9" rx="1.08" ry="1.02" fill="#4a3524"/>
<ellipse cx="850.2" cy="21.6" rx="1.04" ry="1.08" fill="#7a5a36"/>
<ellipse cx="818.0" cy="81.6" rx="1.07" ry="0.90" fill="#5a4028"/>
<ellipse cx="820.5" cy="71.2" rx="0.95" ry="1.16" fill="#4a3524"/>
<ellipse cx="870.8" cy="23.0" rx="1.37" ry="0.86" fill="#5a4028"/>
<ellipse cx="834.3" cy="30.2" rx="1.47" ry="1.06" fill="#5a4028"/>
<ellipse cx="832.2" cy="33.6" rx="1.37" ry="0.88" fill="#2e241c"/>
<ellipse cx="858.2" cy="32.1" rx="1.27" ry="1.11" fill="#7a5a36"/>
<ellipse cx="865.3" cy="12.8" rx="1.03" ry="0.83" fill="#2e241c"/>
<ellipse cx="847.2" cy="37.6" rx="1.15" ry="1.13" fill="#2e241c"/>
<ellipse cx="833.6" cy="51.9" rx="1.20" ry="1.02" fill="#7a5a36"/>
<ellipse cx="816.1" cy="123.2" rx="1.24" ry="1.07" fill="#2e241c"/>
<ellipse cx="818.7" cy="62.4" rx="1.28" ry="0.81" fill="#6a4e30"/>
<ellipse cx="815.5" cy="114.0" rx="1.39" ry="0.84" fill="#2e241c"/>
<ellipse cx="830.2" cy="50.7" rx="1.10" ry="1.14" fill="#5a4028"/>
<ellipse cx="819.0" cy="66.4" rx="1.45" ry="0.91" fill="#5a4028"/>
<ellipse cx="820.8" cy="55.3" rx="1.14" ry="1.00" fill="#5a4028"/>
<ellipse cx="866.9" cy="33.7" rx="1.20" ry="0.85" fill="#4a3524"/>
<ellipse cx="821.0" cy="70.6" rx="0.92" ry="1.09" fill="#2e241c"/>
<ellipse cx="830.0" cy="41.4" rx="0.90" ry="0.88" fill="#2e241c"/>
<ellipse cx="834.4" cy="36.2" rx="1.27" ry="1.05" fill="#7a5a36"/>
<ellipse cx="843.1" cy="29.0" rx="0.92" ry="1.05" fill="#7a5a36"/>
<ellipse cx="853.7" cy="30.8" rx="1.45" ry="1.06" fill="#5a4028"/>
<ellipse cx="864.9" cy="25.3" rx="1.33" ry="1.14" fill="#4a3524"/>
<ellipse cx="825.4" cy="56.4" rx="0.93" ry="1.03" fill="#3e2e20"/>
<ellipse cx="854.8" cy="13.7" rx="1.32" ry="0.96" fill="#3e2e20"/>
<ellipse cx="814.7" cy="123.8" rx="1.19" ry="0.96" fill="#3e2e20"/>
<ellipse cx="813.0" cy="109.5" rx="1.28" ry="0.97" fill="#3e2e20"/>
<ellipse cx="851.5" cy="40.6" rx="0.98" ry="0.81" fill="#7a5a36"/>
<ellipse cx="837.8" cy="44.9" rx="1.45" ry="0.95" fill="#7a5a36"/>
<ellipse cx="849.5" cy="35.2" rx="1.33" ry="0.98" fill="#5a4028"/>
<ellipse cx="869.9" cy="26.0" rx="0.94" ry="1.15" fill="#7a5a36"/>
<ellipse cx="859.8" cy="28.7" rx="1.42" ry="0.99" fill="#3e2e20"/>
<ellipse cx="820.7" cy="71.0" rx="1.18" ry="0.87" fill="#3e2e20"/>
<ellipse cx="820.3" cy="64.0" rx="1.37" ry="1.18" fill="#6a4e30"/>
<ellipse cx="822.9" cy="70.4" rx="1.29" ry="1.12" fill="#6a4e30"/>
<ellipse cx="815.6" cy="68.4" rx="1.09" ry="0.97" fill="#4a3524"/>
<ellipse cx="820.4" cy="61.7" rx="1.44" ry="1.12" fill="#5a4028"/>
<ellipse cx="844.5" cy="31.5" rx="1.36" ry="1.11" fill="#5a4028"/>
<ellipse cx="863.9" cy="33.4" rx="1.24" ry="0.91" fill="#6a4e30"/>
<ellipse cx="846.9" cy="36.0" rx="1.38" ry="0.88" fill="#7a5a36"/>
<ellipse cx="871.9" cy="26.0" rx="1.31" ry="0.99" fill="#4a3524"/>
<ellipse cx="870.2" cy="19.7" rx="1.22" ry="0.94" fill="#3e2e20"/>
<ellipse cx="818.7" cy="83.8" rx="1.43" ry="1.01" fill="#2e241c"/>
<ellipse cx="832.1" cy="49.5" rx="1.07" ry="1.03" fill="#5a4028"/>
<ellipse cx="827.4" cy="61.3" rx="0.93" ry="1.20" fill="#5a4028"/>
<ellipse cx="862.4" cy="18.6" rx="0.92" ry="0.91" fill="#6a4e30"/>
<ellipse cx="817.2" cy="121.4" rx="1.42" ry="0.99" fill="#6a4e30"/>
<ellipse cx="818.8" cy="87.9" rx="1.26" ry="1.04" fill="#4a3524"/>
<ellipse cx="820.6" cy="81.2" rx="1.01" ry="0.83" fill="#3e2e20"/>
<ellipse cx="814.8" cy="117.1" rx="1.44" ry="1.15" fill="#7a5a36"/>
<ellipse cx="826.3" cy="62.1" rx="1.05" ry="1.03" fill="#7a5a36"/>
<ellipse cx="816.3" cy="108.7" rx="1.12" ry="0.89" fill="#7a5a36"/>
<ellipse cx="821.6" cy="86.5" rx="1.11" ry="1.16" fill="#3e2e20"/>
<ellipse cx="863.8" cy="33.1" rx="1.49" ry="0.82" fill="#4a3524"/>
<ellipse cx="818.4" cy="70.6" rx="1.35" ry="1.04" fill="#2e241c"/>
<ellipse cx="853.8" cy="30.9" rx="1.19" ry="0.87" fill="#4a3524"/>
<ellipse cx="859.0" cy="27.2" rx="1.18" ry="1.17" fill="#3e2e20"/>
<ellipse cx="816.6" cy="96.0" rx="1.35" ry="1.11" fill="#3e2e20"/>
<ellipse cx="869.6" cy="16.8" rx="0.95" ry="1.19" fill="#5a4028"/>
<ellipse cx="855.5" cy="17.0" rx="0.93" ry="1.09" fill="#6a4e30"/>
<ellipse cx="866.5" cy="25.5" rx="1.15" ry="0.90" fill="#3e2e20"/>
<ellipse cx="820.0" cy="78.8" rx="1.09" ry="1.16" fill="#3e2e20"/>
<ellipse cx="817.0" cy="97.1" rx="1.37" ry="1.17" fill="#6a4e30"/>
<ellipse cx="829.1" cy="51.2" rx="1.49" ry="1.20" fill="#4a3524"/>
<ellipse cx="816.3" cy="108.1" rx="0.93" ry="1.09" fill="#5a4028"/>
<ellipse cx="814.8" cy="97.8" rx="1.17" ry="1.12" fill="#6a4e30"/>
<ellipse cx="819.8" cy="76.1" rx="1.15" ry="0.91" fill="#4a3524"/>
<ellipse cx="818.1" cy="99.6" rx="0.95" ry="0.83" fill="#6a4e30"/>
<ellipse cx="847.2" cy="26.1" rx="0.98" ry="1.07" fill="#7a5a36"/>
<ellipse cx="855.7" cy="22.7" rx="1.14" ry="1.09" fill="#3e2e20"/>
<ellipse cx="833.6" cy="48.6" rx="1.28" ry="1.18" fill="#3e2e20"/>
<ellipse cx="815.4" cy="122.3" rx="1.01" ry="1.13" fill="#5a4028"/>
<ellipse cx="814.4" cy="117.2" rx="1.41" ry="0.94" fill="#2e241c"/>
<ellipse cx="876.7" cy="26.2" rx="1.45" ry="1.11" fill="#2e241c"/>
<ellipse cx="842.3" cy="45.8" rx="0.96" ry="1.09" fill="#2e241c"/>
<ellipse cx="827.6" cy="46.6" rx="1.03" ry="0.87" fill="#3e2e20"/>
<ellipse cx="820.4" cy="72.0" rx="0.91" ry="1.17" fill="#7a5a36"/>
<ellipse cx="819.6" cy="89.8" rx="1.32" ry="0.84" fill="#3e2e20"/>
<ellipse cx="846.4" cy="27.9" rx="1.20" ry="1.00" fill="#5a4028"/>
<ellipse cx="818.4" cy="104.3" rx="1.04" ry="1.07" fill="#2e241c"/>
<ellipse cx="850.6" cy="28.4" rx="1.46" ry="0.96" fill="#2e241c"/>
<ellipse cx="836.7" cy="39.0" rx="1.12" ry="0.96" fill="#5a4028"/>
<ellipse cx="847.8" cy="29.3" rx="1.49" ry="0.93" fill="#2e241c"/>
<ellipse cx="863.6" cy="31.3" rx="1.05" ry="0.97" fill="#7a5a36"/>
<ellipse cx="814.8" cy="123.0" rx="1.09" ry="0.88" fill="#7a5a36"/>
<ellipse cx="817.6" cy="121.2" rx="1.28" ry="1.12" fill="#3e2e20"/>
<ellipse cx="812.8" cy="118.0" rx="1.31" ry="0.91" fill="#6a4e30"/>
<ellipse cx="857.7" cy="27.6" rx="1.04" ry="0.82" fill="#3e2e20"/>
<ellipse cx="820.8" cy="73.1" rx="1.26" ry="1.18" fill="#6a4e30"/>
<ellipse cx="869.5" cy="29.5" rx="1.21" ry="1.15" fill="#2e241c"/>
<ellipse cx="834.4" cy="41.0" rx="1.34" ry="0.91" fill="#2e241c"/>
<ellipse cx="833.9" cy="34.7" rx="1.18" ry="1.02" fill="#6a4e30"/>
<ellipse cx="833.8" cy="53.6" rx="1.10" ry="0.88" fill="#6a4e30"/>
<ellipse cx="823.7" cy="61.8" rx="1.04" ry="1.02" fill="#2e241c"/>
<ellipse cx="823.0" cy="78.9" rx="0.93" ry="0.81" fill="#6a4e30"/>
<ellipse cx="815.5" cy="112.9" rx="1.16" ry="1.09" fill="#3e2e20"/>
<ellipse cx="834.1" cy="47.4" rx="1.46" ry="0.97" fill="#7a5a36"/>
<ellipse cx="820.4" cy="66.9" rx="1.21" ry="1.10" fill="#7a5a36"/>
<ellipse cx="868.6" cy="11.3" rx="1.28" ry="1.05" fill="#7a5a36"/>
<ellipse cx="816.0" cy="101.6" rx="1.20" ry="1.19" fill="#6a4e30"/>
<ellipse cx="814.8" cy="97.1" rx="1.27" ry="0.84" fill="#2e241c"/>
<ellipse cx="845.3" cy="30.5" rx="1.26" ry="1.06" fill="#3e2e20"/>
<ellipse cx="857.4" cy="30.4" rx="1.17" ry="0.87" fill="#5a4028"/>
<ellipse cx="854.4" cy="20.7" rx="1.10" ry="1.19" fill="#6a4e30"/>
<ellipse cx="864.3" cy="34.1" rx="1.16" ry="1.16" fill="#3e2e20"/>
<ellipse cx="816.2" cy="119.8" rx="1.09" ry="1.05" fill="#2e241c"/>
<ellipse cx="834.5" cy="49.3" rx="1.13" ry="0.94" fill="#6a4e30"/>
<ellipse cx="843.6" cy="32.8" rx="1.15" ry="1.00" fill="#7a5a36"/>
<ellipse cx="834.6" cy="42.8" rx="1.48" ry="0.99" fill="#2e241c"/>
<ellipse cx="854.9" cy="31.9" rx="0.96" ry="0.95" fill="#5a4028"/>
<ellipse cx="876.6" cy="8.6" rx="0.97" ry="1.16" fill="#7a5a36"/>
<ellipse cx="824.7" cy="69.6" rx="1.21" ry="1.13" fill="#4a3524"/>
<ellipse cx="830.3" cy="48.2" rx="1.28" ry="1.04" fill="#5a4028"/>
<ellipse cx="831.2" cy="39.1" rx="0.90" ry="1.08" fill="#6a4e30"/>
<ellipse cx="814.5" cy="125.3" rx="1.25" ry="1.07" fill="#4a3524"/>
<ellipse cx="816.3" cy="94.3" rx="1.21" ry="0.86" fill="#4a3524"/>
<ellipse cx="821.5" cy="57.6" rx="1.36" ry="0.84" fill="#3e2e20"/>
<ellipse cx="816.3" cy="110.1" rx="1.38" ry="1.06" fill="#7a5a36"/>
<ellipse cx="853.1" cy="28.9" rx="1.11" ry="0.87" fill="#5a4028"/>
<ellipse cx="843.7" cy="41.9" rx="1.27" ry="0.81" fill="#4a3524"/>
<ellipse cx="865.2" cy="22.7" rx="1.16" ry="1.05" fill="#4a3524"/>
<ellipse cx="820.0" cy="85.9" rx="1.42" ry="0.98" fill="#2e241c"/>
<ellipse cx="838.9" cy="39.0" rx="1.47" ry="0.90" fill="#2e241c"/>
<ellipse cx="840.8" cy="29.0" rx="0.91" ry="1.15" fill="#3e2e20"/>
<ellipse cx="818.0" cy="94.1" rx="1.48" ry="0.92" fill="#6a4e30"/>
<ellipse cx="821.6" cy="64.0" rx="1.48" ry="0.97" fill="#5a4028"/>
<ellipse cx="837.7" cy="46.7" rx="1.11" ry="0.97" fill="#5a4028"/>
<ellipse cx="842.2" cy="32.6" rx="1.06" ry="1.13" fill="#4a3524"/>
<ellipse cx="831.9" cy="42.5" rx="1.04" ry="0.95" fill="#4a3524"/>
<ellipse cx="844.1" cy="22.5" rx="1.20" ry="0.89" fill="#2e241c"/>
<ellipse cx="853.2" cy="41.0" rx="1.26" ry="0.98" fill="#5a4028"/>
<ellipse cx="830.2" cy="43.9" rx="1.31" ry="0.84" fill="#5a4028"/>
<ellipse cx="852.8" cy="34.0" rx="1.33" ry="0.86" fill="#3e2e20"/>
<ellipse cx="826.0" cy="62.7" rx="1.30" ry="0.84" fill="#6a4e30"/>
<ellipse cx="868.4" cy="15.8" rx="1.02" ry="1.09" fill="#3e2e20"/>
<ellipse cx="820.8" cy="85.3" rx="1.45" ry="1.11" fill="#7a5a36"/>
<ellipse cx="864.8" cy="29.1" rx="0.92" ry="1.07" fill="#7a5a36"/>
<ellipse cx="845.8" cy="32.4" rx="1.50" ry="0.96" fill="#7a5a36"/>
<ellipse cx="814.2" cy="107.1" rx="1.27" ry="0.89" fill="#7a5a36"/>
<ellipse cx="815.7" cy="117.4" rx="1.13" ry="0.82" fill="#5a4028"/>
<ellipse cx="843.3" cy="38.9" rx="1.04" ry="1.00" fill="#6a4e30"/>
<ellipse cx="816.6" cy="80.2" rx="1.40" ry="1.11" fill="#5a4028"/>
<ellipse cx="868.0" cy="21.3" rx="1.32" ry="1.19" fill="#7a5a36"/>
<ellipse cx="887.2" cy="23.3" rx="0.95" ry="1.08" fill="#2e241c"/>
<ellipse cx="940.3" cy="42.1" rx="1.22" ry="0.94" fill="#2e241c"/>
<ellipse cx="913.0" cy="17.7" rx="1.28" ry="1.00" fill="#7a5a36"/>
<ellipse cx="928.9" cy="22.8" rx="1.46" ry="0.85" fill="#4a3524"/>
<ellipse cx="880.4" cy="15.0" rx="1.48" ry="1.06" fill="#6a4e30"/>
<ellipse cx="898.1" cy="29.9" rx="1.11" ry="0.84" fill="#7a5a36"/>
<ellipse cx="902.2" cy="28.0" rx="1.05" ry="1.01" fill="#2e241c"/>
<ellipse cx="888.4" cy="12.5" rx="0.98" ry="1.08" fill="#6a4e30"/>
<ellipse cx="922.2" cy="18.2" rx="1.00" ry="1.07" fill="#6a4e30"/>
<ellipse cx="939.9" cy="41.2" rx="1.02" ry="1.08" fill="#3e2e20"/>
<ellipse cx="905.3" cy="22.0" rx="1.32" ry="0.98" fill="#3e2e20"/>
<ellipse cx="889.6" cy="25.8" rx="1.07" ry="1.02" fill="#3e2e20"/>
<ellipse cx="881.8" cy="36.9" rx="1.49" ry="1.03" fill="#3e2e20"/>
<ellipse cx="920.7" cy="32.1" rx="1.37" ry="0.93" fill="#5a4028"/>
<ellipse cx="936.4" cy="39.8" rx="1.05" ry="0.90" fill="#4a3524"/>
<ellipse cx="930.4" cy="30.0" rx="0.99" ry="0.95" fill="#7a5a36"/>
<ellipse cx="910.3" cy="34.1" rx="1.09" ry="1.05" fill="#2e241c"/>
<ellipse cx="893.4" cy="26.4" rx="1.12" ry="1.02" fill="#5a4028"/>
<ellipse cx="931.7" cy="38.4" rx="1.45" ry="1.20" fill="#2e241c"/>
<ellipse cx="931.5" cy="42.6" rx="1.20" ry="0.86" fill="#5a4028"/>
<ellipse cx="919.9" cy="25.1" rx="1.28" ry="0.96" fill="#3e2e20"/>
<ellipse cx="928.6" cy="38.9" rx="1.12" ry="0.81" fill="#6a4e30"/>
<ellipse cx="929.5" cy="37.5" rx="1.21" ry="0.97" fill="#5a4028"/>
<ellipse cx="888.8" cy="32.5" rx="1.01" ry="1.09" fill="#2e241c"/>
<ellipse cx="903.0" cy="11.0" rx="0.95" ry="0.93" fill="#2e241c"/>
<ellipse cx="906.0" cy="25.9" rx="0.99" ry="0.96" fill="#6a4e30"/>
<ellipse cx="919.3" cy="27.4" rx="1.08" ry="1.03" fill="#5a4028"/>
<ellipse cx="914.6" cy="15.0" rx="1.11" ry="1.15" fill="#3e2e20"/>
<ellipse cx="933.0" cy="37.5" rx="1.25" ry="1.02" fill="#2e241c"/>
<ellipse cx="906.0" cy="19.4" rx="1.06" ry="0.89" fill="#4a3524"/>
<ellipse cx="913.9" cy="34.4" rx="1.22" ry="0.90" fill="#2e241c"/>
<ellipse cx="894.1" cy="24.1" rx="1.32" ry="1.09" fill="#6a4e30"/>
<ellipse cx="912.9" cy="31.4" rx="1.20" ry="1.00" fill="#3e2e20"/>
<ellipse cx="924.0" cy="24.7" rx="1.18" ry="1.07" fill="#6a4e30"/>
<ellipse cx="891.4" cy="30.2" rx="1.37" ry="0.82" fill="#4a3524"/>
<ellipse cx="885.5" cy="15.7" rx="1.47" ry="0.98" fill="#3e2e20"/>
<ellipse cx="932.8" cy="19.8" rx="1.24" ry="1.17" fill="#5a4028"/>
<ellipse cx="892.7" cy="6.9" rx="1.36" ry="1.07" fill="#5a4028"/>
<ellipse cx="890.8" cy="12.3" rx="0.93" ry="1.04" fill="#3e2e20"/>
<ellipse cx="904.6" cy="19.6" rx="0.92" ry="1.16" fill="#4a3524"/>
<ellipse cx="899.2" cy="24.3" rx="0.97" ry="0.81" fill="#3e2e20"/>
<ellipse cx="885.1" cy="10.8" rx="1.46" ry="1.15" fill="#7a5a36"/>
<ellipse cx="906.4" cy="28.5" rx="1.38" ry="1.18" fill="#3e2e20"/>
<ellipse cx="883.4" cy="16.6" rx="1.19" ry="0.81" fill="#3e2e20"/>
<ellipse cx="883.8" cy="8.3" rx="1.48" ry="1.08" fill="#2e241c"/>
<ellipse cx="910.7" cy="12.7" rx="0.95" ry="0.93" fill="#4a3524"/>
<ellipse cx="902.1" cy="28.7" rx="1.34" ry="0.93" fill="#2e241c"/>
<ellipse cx="903.2" cy="34.7" rx="1.25" ry="0.93" fill="#3e2e20"/>
<ellipse cx="895.3" cy="26.2" rx="0.99" ry="0.95" fill="#3e2e20"/>
<ellipse cx="916.4" cy="18.8" rx="1.22" ry="1.18" fill="#7a5a36"/>
<ellipse cx="880.8" cy="7.6" rx="1.28" ry="1.05" fill="#5a4028"/>
<ellipse cx="933.9" cy="28.2" rx="1.38" ry="0.86" fill="#3e2e20"/>
<ellipse cx="898.7" cy="19.7" rx="1.11" ry="1.02" fill="#2e241c"/>
<ellipse cx="902.8" cy="18.4" rx="1.43" ry="1.11" fill="#6a4e30"/>
<ellipse cx="906.5" cy="21.4" rx="0.90" ry="1.15" fill="#2e241c"/>
<ellipse cx="904.9" cy="26.9" rx="1.46" ry="1.03" fill="#4a3524"/>
<ellipse cx="904.2" cy="13.0" rx="1.10" ry="1.17" fill="#6a4e30"/>
<ellipse cx="936.7" cy="37.8" rx="1.11" ry="0.99" fill="#7a5a36"/>
<ellipse cx="908.3" cy="21.2" rx="1.07" ry="0.90" fill="#3e2e20"/>
<ellipse cx="925.9" cy="32.8" rx="0.91" ry="0.82" fill="#2e241c"/>
<ellipse cx="893.6" cy="6.4" rx="1.34" ry="1.19" fill="#6a4e30"/>
<ellipse cx="885.9" cy="16.3" rx="1.25" ry="1.09" fill="#3e2e20"/>
<ellipse cx="893.9" cy="1.5" rx="1.03" ry="0.93" fill="#7a5a36"/>
<ellipse cx="879.0" cy="4.6" rx="1.38" ry="0.87" fill="#2e241c"/>
<ellipse cx="925.9" cy="39.7" rx="1.14" ry="1.18" fill="#3e2e20"/>
<ellipse cx="879.4" cy="-4.1" rx="1.09" ry="0.97" fill="#7a5a36"/>
<ellipse cx="927.0" cy="30.8" rx="1.36" ry="0.84" fill="#5a4028"/>
<ellipse cx="906.0" cy="25.2" rx="1.23" ry="1.06" fill="#6a4e30"/>
<ellipse cx="919.3" cy="27.9" rx="0.92" ry="1.06" fill="#7a5a36"/>
<ellipse cx="933.6" cy="28.8" rx="1.07" ry="1.01" fill="#5a4028"/>
<ellipse cx="889.5" cy="27.8" rx="1.12" ry="1.20" fill="#4a3524"/>
<ellipse cx="913.8" cy="11.8" rx="1.27" ry="0.85" fill="#6a4e30"/>
<ellipse cx="914.8" cy="21.9" rx="0.99" ry="0.87" fill="#7a5a36"/>
<ellipse cx="933.6" cy="34.1" rx="1.11" ry="1.08" fill="#2e241c"/>
<ellipse cx="942.7" cy="38.8" rx="1.18" ry="0.93" fill="#3e2e20"/>
<ellipse cx="887.9" cy="31.8" rx="1.29" ry="0.96" fill="#5a4028"/>
<ellipse cx="883.5" cy="14.7" rx="1.28" ry="0.89" fill="#5a4028"/>
<ellipse cx="880.6" cy="8.4" rx="1.11" ry="0.93" fill="#2e241c"/>
<ellipse cx="929.2" cy="23.8" rx="0.99" ry="1.15" fill="#5a4028"/>
<ellipse cx="932.2" cy="46.8" rx="0.95" ry="0.80" fill="#4a3524"/>
<ellipse cx="890.1" cy="13.3" rx="1.43" ry="0.88" fill="#7a5a36"/>
<ellipse cx="904.9" cy="21.3" rx="1.01" ry="1.15" fill="#5a4028"/>
<ellipse cx="922.2" cy="31.5" rx="1.08" ry="1.00" fill="#5a4028"/>
<ellipse cx="888.3" cy="19.3" rx="0.95" ry="0.94" fill="#7a5a36"/>
<ellipse cx="915.2" cy="41.5" rx="1.38" ry="1.08" fill="#3e2e20"/>
<ellipse cx="888.2" cy="19.8" rx="1.32" ry="1.09" fill="#3e2e20"/>
<ellipse cx="943.6" cy="43.6" rx="0.98" ry="0.97" fill="#4a3524"/>
<ellipse cx="893.3" cy="25.8" rx="1.23" ry="1.20" fill="#6a4e30"/>
<ellipse cx="908.3" cy="4.6" rx="1.48" ry="1.15" fill="#7a5a36"/>
<ellipse cx="885.4" cy="24.4" rx="1.06" ry="1.19" fill="#4a3524"/>
<ellipse cx="917.8" cy="17.7" rx="1.31" ry="1.06" fill="#6a4e30"/>
<ellipse cx="899.0" cy="22.7" rx="1.50" ry="1.10" fill="#5a4028"/>
<ellipse cx="909.7" cy="20.6" rx="1.13" ry="0.96" fill="#4a3524"/>
<ellipse cx="933.7" cy="37.9" rx="1.20" ry="1.20" fill="#7a5a36"/>
<ellipse cx="922.2" cy="24.7" rx="1.41" ry="1.11" fill="#7a5a36"/>
<ellipse cx="883.4" cy="22.7" rx="1.29" ry="1.02" fill="#5a4028"/>
<ellipse cx="912.4" cy="15.7" rx="1.11" ry="1.02" fill="#2e241c"/>
<ellipse cx="895.8" cy="11.2" rx="1.13" ry="1.08" fill="#2e241c"/>
<ellipse cx="939.8" cy="43.5" rx="1.38" ry="1.07" fill="#6a4e30"/>
<ellipse cx="928.8" cy="34.5" rx="1.41" ry="0.94" fill="#6a4e30"/>
<ellipse cx="912.7" cy="26.0" rx="1.21" ry="1.01" fill="#5a4028"/>
<ellipse cx="898.8" cy="18.4" rx="1.18" ry="1.06" fill="#7a5a36"/>
<ellipse cx="929.3" cy="42.3" rx="0.97" ry="0.86" fill="#5a4028"/>
<ellipse cx="907.3" cy="12.0" rx="1.21" ry="0.92" fill="#7a5a36"/>
<ellipse cx="889.2" cy="-4.1" rx="1.19" ry="1.12" fill="#6a4e30"/>
<ellipse cx="890.6" cy="9.9" rx="1.21" ry="0.90" fill="#5a4028"/>
<ellipse cx="913.1" cy="26.2" rx="1.06" ry="1.04" fill="#5a4028"/>
<ellipse cx="925.2" cy="32.3" rx="1.05" ry="1.13" fill="#3e2e20"/>
<ellipse cx="916.2" cy="24.9" rx="1.07" ry="1.11" fill="#3e2e20"/>
<ellipse cx="918.6" cy="39.7" rx="1.35" ry="1.19" fill="#2e241c"/>
<circle cx="935.6" cy="33" r="1.3" fill="#3e2e22"/>
<circle cx="939" cy="48" r="1.3" fill="#3e2e22"/>
<circle cx="944" cy="59" r="1.3" fill="#3e2e22"/>
<circle cx="954" cy="55.6" r="1.3" fill="#3e2e22"/>
<circle cx="941" cy="64" r="1.3" fill="#3e2e22"/>
<circle cx="954" cy="65" r="1.3" fill="#3e2e22"/>
<circle cx="950" cy="75" r="1.3" fill="#3e2e22"/>
<circle cx="954" cy="72" r="1.3" fill="#3e2e22"/>
<circle cx="953" cy="85" r="1.3" fill="#3e2e22"/>
<circle cx="967" cy="85" r="1.3" fill="#3e2e22"/>
<circle cx="947.6" cy="91.7" r="1.3" fill="#3e2e22"/>
<circle cx="930" cy="44" r="1.3" fill="#3e2e22"/>
<circle cx="925" cy="38" r="1.3" fill="#3e2e22"/>
<circle cx="945" cy="40" r="1.3" fill="#3e2e22"/>
</g>
<g font-family="Liberation Sans" font-size="19" fill="#1e1e1e" stroke="#1e1e1e" stroke-width="0.5">
<text x="24" y="167" textLength="71" lengthAdjust="spacingAndGlyphs" text-anchor="start">Water tank</text>
<text x="24" y="187.5" textLength="109.5" lengthAdjust="spacingAndGlyphs" text-anchor="start">Serbatoio d'acqua</text>
<text x="213.6" y="327.2" textLength="68" lengthAdjust="spacingAndGlyphs" text-anchor="start">Water level</text>
<text x="213.6" y="347.1" textLength="78.4" lengthAdjust="spacingAndGlyphs" text-anchor="start">Livello acqua</text>
<text x="146.7" y="491.5" textLength="89" lengthAdjust="spacingAndGlyphs" text-anchor="start">ON/OFF switch</text>
<text x="146.7" y="511.7" textLength="121" lengthAdjust="spacingAndGlyphs" text-anchor="start">Interruttore ON/OFF</text>
<text x="881" y="112.7" textLength="99" lengthAdjust="spacingAndGlyphs" text-anchor="start">Coffee container</text>
<text x="876.4" y="133" textLength="103.4" lengthAdjust="spacingAndGlyphs" text-anchor="start">Contenitore caffè</text>
<text x="954.2" y="229.6" textLength="105.3" lengthAdjust="spacingAndGlyphs" text-anchor="start">Measuring spoon</text>
<text x="954.2" y="250" textLength="53.4" lengthAdjust="spacingAndGlyphs" text-anchor="start">Misurino</text>
<text x="907.5" y="308" textLength="73.5" lengthAdjust="spacingAndGlyphs" text-anchor="start">Filter funnel</text>
<text x="884.3" y="328.4" textLength="96.7" lengthAdjust="spacingAndGlyphs" text-anchor="start">Imbuto filtrante</text>
<text x="785" y="491.4" textLength="56" lengthAdjust="spacingAndGlyphs" text-anchor="start">Glass cup</text>
<text x="760" y="511.7" textLength="81" lengthAdjust="spacingAndGlyphs" text-anchor="start">Tazza di vetro</text>
</g>
</svg></body></html>
